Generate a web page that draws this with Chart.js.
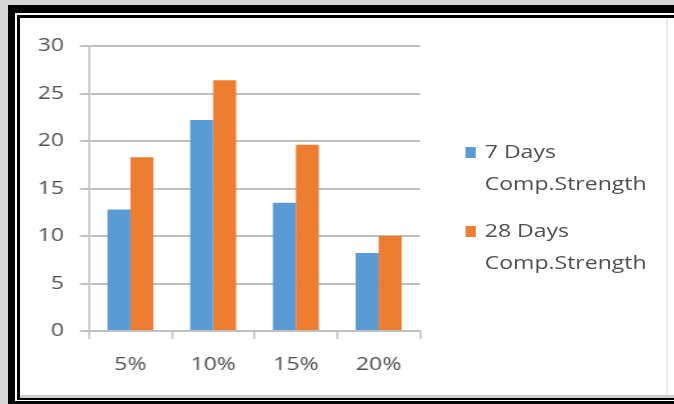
<!DOCTYPE html>
<html>
<head>
<meta charset="utf-8">
<script src="https://cdn.jsdelivr.net/npm/chart.js@4.4.1/dist/chart.umd.min.js"></script>
<style>
    html, body { margin: 0; padding: 0; }
    body { width: 674px; height: 404px; overflow: hidden; background: #d6d6d6; position: relative; font-family: 'Open Sans', sans-serif; }
    .blk { position: absolute; }
    #frameOuter { left: 8px; top: 5px; width: 700px; height: 399px; background: #000; }
    #frameGap { left: 15px; top: 13px; width: 700px; height: 388px; background: #fff; }
    #frameInner { left: 17px; top: 15px; width: 700px; height: 385px; background: #000; }
    #panel { left: 20px; top: 18px; width: 700px; height: 377px; background: #fff; border-bottom: 3px solid #cfcfcf; }
    #panelEdge { left: 666px; top: 18px; width: 2px; height: 377px; background: #ececec; }
    /* the source picture is stretched sideways, so the chart is drawn narrow and widened */
    #stage { position: absolute; left: 0; top: 0; width: 527px; height: 404px; transform: scaleX(1.279); transform-origin: 0 0; }
    #legend { position: absolute; left: 0; top: 0; width: 527px; height: 404px; pointer-events: none; }
    .lg-item { position: absolute; left: 379px; color: #4f4f4f; font-size: 18px; line-height: 32px; white-space: nowrap; }
    .lg-box { position: absolute; width: 8.6px; height: 11px; }
</style>
</head>
<body>
<div class="blk" id="frameOuter"></div>
<div class="blk" id="frameGap"></div>
<div class="blk" id="frameInner"></div>
<div class="blk" id="panel"></div>
<div class="blk" id="panelEdge"></div>
<div id="stage">
    <canvas id="strengthChart" width="527" height="404" style="width:527px;height:404px;"></canvas>
    <div id="legend"></div>
</div>
<script>
// Chart data
const categories = ['5%', '10%', '15%', '20%'];
const days7Values = [12.8, 22.2, 13.5, 8.2];
const days28Values = [18.3, 26.4, 19.6, 10.0];
const seriesLabels = [['7 Days', 'Comp.Strength'], ['28 Days', 'Comp.Strength']];
const seriesColors = ['#5b9bd5', '#ed7d31'];
const yMin = 0;
const yMax = 30;
const yStep = 5;

const axisFont = { family: "'Open Sans', sans-serif", size: 18 };
const gridColor = '#bfbfbf';
const textColor = '#4f4f4f';

function buildLegend(chart) {
    const box = document.getElementById('legend');
    box.innerHTML = '';
    chart.data.datasets.forEach((ds, i) => {
        const top = 135 + i * 79;
        const item = document.createElement('div');
        item.className = 'lg-item';
        item.style.top = top + 'px';
        item.innerHTML = ds.label.join('<br>');
        box.appendChild(item);

        const sw = document.createElement('div');
        sw.className = 'lg-box';
        sw.style.left = '363.6px';
        sw.style.top = (top + 12) + 'px';
        sw.style.background = ds.backgroundColor;
        box.appendChild(sw);
    });
}

window.addEventListener('load', function() {
    if (typeof Chart === 'undefined') {
        console.error('Chart.js not loaded.');
        return;
    }
    const ctx = document.getElementById('strengthChart').getContext('2d');
    const chart = new Chart(ctx, {
        type: 'bar',
        data: {
            labels: categories,
            datasets: [
                { label: seriesLabels[0], data: days7Values, backgroundColor: seriesColors[0], borderWidth: 0 },
                { label: seriesLabels[1], data: days28Values, backgroundColor: seriesColors[1], borderWidth: 0 }
            ]
        },
        options: {
            responsive: false,
            animation: false,
            layout: { padding: { top: 46, right: 198.6, bottom: 0, left: 0 } },
            datasets: { bar: { barPercentage: 1, categoryPercentage: 0.556 } },
            plugins: {
                legend: { display: false },
                tooltip: { enabled: false }
            },
            scales: {
                x: {
                    offset: true,
                    grid: { drawOnChartArea: false, drawTicks: true, tickLength: 8, color: gridColor, lineWidth: 1.5 },
                    border: { display: true, color: gridColor, width: 1.5 },
                    ticks: { color: textColor, font: axisFont, padding: 15, maxRotation: 0 },
                    afterFit: s => { s.height = 73; }
                },
                y: {
                    min: yMin,
                    max: yMax,
                    grid: { color: gridColor, lineWidth: 2, tickLength: 7 },
                    border: { display: true, color: gridColor, width: 1.5 },
                    ticks: { stepSize: yStep, color: textColor, font: axisFont, padding: 12.5 },
                    afterFit: s => { s.width = 69.6; }
                }
            }
        }
    });
    buildLegend(chart);
});
</script>
</body>
</html>
